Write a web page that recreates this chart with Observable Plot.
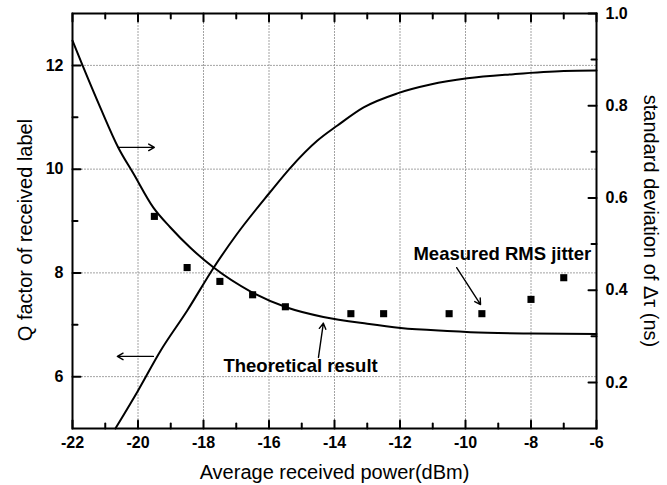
<!DOCTYPE html>
<html>
<head>
<meta charset="utf-8">
<script src="https://cdn.jsdelivr.net/npm/d3@7"></script>
<script src="https://cdn.jsdelivr.net/npm/@observablehq/plot@0.6"></script>
<style>
  html, body { margin: 0; padding: 0; background: #fff; }
  #chart svg { display: block; }
</style>
</head>
<body>
<div id="chart"></div>
<script>
// ---- Data ----
// Theoretical Q factor curve (left axis)
const qCurvePower = [-20.69, -20.0, -19.31, -18.49, -17.69, -17.0, -16.0, -15.34, -14.52, -13.91, -13.11, -12.08, -11.07, -9.94, -8.53, -7.0, -6.0];
const qCurveValue = [5.0, 5.73, 6.5, 7.28, 8.1, 8.73, 9.53, 10.03, 10.55, 10.84, 11.19, 11.46, 11.63, 11.75, 11.83, 11.89, 11.9];

// Theoretical jitter curve (right axis, ns)
const jitterCurvePower = [-22.0, -21.69, -21.15, -20.6, -20.14, -19.53, -19.01, -18.4, -17.69, -16.56, -15.43, -14.34, -13.0, -11.98, -10.37, -9.85, -8.0, -6.0];
const jitterCurveValue = [0.941, 0.887, 0.796, 0.709, 0.653, 0.579, 0.536, 0.492, 0.449, 0.397, 0.362, 0.342, 0.327, 0.318, 0.311, 0.309, 0.306, 0.305];

// Measured RMS jitter (right axis, ns)
const measuredPower = [-19.5, -18.5, -17.5, -16.5, -15.5, -13.5, -12.5, -10.5, -9.5, -8.0, -7.0];
const measuredJitter = [0.56, 0.449, 0.419, 0.39, 0.364, 0.349, 0.349, 0.349, 0.349, 0.38, 0.427];

// Axis ticks
const xTicks = [-22, -20, -18, -16, -14, -12, -10, -8, -6];
const xMinorTicks = [-21, -19, -17, -15, -13, -11, -9, -7];
const xGrid = [-20, -18, -16, -14, -12, -10, -8];
const leftTicks = [6, 8, 10, 12];
const leftMinorTicks = [7, 9, 11];
const rightTicks = [0.2, 0.4, 0.6, 0.8, 1.0];
const rightMinorTicks = [0.3, 0.5, 0.7, 0.9];

const xTitle = "Average received power(dBm)";
const leftTitle = "Q factor of received label";
const rightTitle = "standard deviation of \u0394\u03c4 (ns)";
const labelTheory = "Theoretical result";
const labelMeasured = "Measured RMS jitter";

// ---- Scales ----
const xDomain = [-22, -6];
const qDomain = [5, 13];
const jDomain = [0.1, 1.0];
const toQ = v => qDomain[0] + (v - jDomain[0]) * (qDomain[1] - qDomain[0]) / (jDomain[1] - jDomain[0]);
const fromQ = q => jDomain[0] + (q - qDomain[0]) * (jDomain[1] - jDomain[0]) / (qDomain[1] - qDomain[0]);

const qCurve = qCurvePower.map((x, i) => ({x, y: qCurveValue[i]}));
const jitterCurve = jitterCurvePower.map((x, i) => ({x, y: toQ(jitterCurveValue[i])}));
const measured = measuredPower.map((x, i) => ({x, y: toQ(measuredJitter[i])}));

const W = 667, H = 485, ML = 72, MR = 71, MT = 13, MB = 57;
const FW = W - ML - MR, FH = H - MT - MB;
const MAJ = 8, MIN = 5;
// pixel lengths expressed in data units, for inward ticks
const pxX = (xDomain[1] - xDomain[0]) / FW;
const pxQ = (qDomain[1] - qDomain[0]) / FH;

// two-point segments, one per tick / grid line (drawn with line marks, grouped by id)
let segId = 0;
const vSeg = (vals, y1, y2) => vals.flatMap(v => { const id = segId++; return [{x: v, y: y1, id}, {x: v, y: y2, id}]; });
const hSeg = (vals, x1, x2) => vals.flatMap(v => { const id = segId++; return [{x: x1, y: v, id}, {x: x2, y: v, id}]; });

const gridSegs = [
  ...vSeg(xGrid, qDomain[0], qDomain[1]),
  ...hSeg(leftTicks, xDomain[0], xDomain[1])
];
const tickSegs = [
  ...vSeg(xTicks, qDomain[0], qDomain[0] + MAJ * pxQ),
  ...vSeg(xMinorTicks, qDomain[0], qDomain[0] + MIN * pxQ),
  ...vSeg(xTicks, qDomain[1], qDomain[1] - MAJ * pxQ),
  ...vSeg(xMinorTicks, qDomain[1], qDomain[1] - MIN * pxQ),
  ...hSeg(leftTicks, xDomain[0], xDomain[0] + MAJ * pxX),
  ...hSeg(leftMinorTicks, xDomain[0], xDomain[0] + MIN * pxX),
  ...hSeg(rightTicks.map(toQ), xDomain[1], xDomain[1] - MAJ * pxX),
  ...hSeg(rightMinorTicks.map(toQ), xDomain[1], xDomain[1] - MIN * pxX)
];

const font = "Liberation Sans, Arial, Helvetica, sans-serif";
const arrowOpts = {x1: "x1", y1: "y1", x2: "x2", y2: "y2", stroke: "black", strokeWidth: 1.4, headLength: 7};

const chart = Plot.plot({
  width: W,
  height: H,
  marginLeft: ML,
  marginRight: MR,
  marginTop: MT,
  marginBottom: MB,
  style: {fontFamily: font, fontSize: "16px", fontWeight: "bold", color: "black", background: "white"},
  x: {domain: xDomain},
  y: {domain: qDomain},
  marks: [
    // dotted grid
    Plot.line(gridSegs, {x: "x", y: "y", z: "id", stroke: "#999", strokeWidth: 1, strokeDasharray: "1,2"}),
    // curves
    Plot.line(qCurve, {x: "x", y: "y", curve: "monotone-x", stroke: "black", strokeWidth: 2}),
    Plot.line(jitterCurve, {x: "x", y: "y", curve: "monotone-x", stroke: "black", strokeWidth: 2}),
    Plot.dot(measured, {x: "x", y: "y", symbol: "square", r: 4, fill: "black"}),
    // annotations
    Plot.arrow([{x1: -20.6, y1: 10.42, x2: -19.5, y2: 10.42}], arrowOpts),
    Plot.arrow([{x1: -19.53, y1: 6.39, x2: -20.63, y2: 6.39}], arrowOpts),
    Plot.arrow([{x1: -14.49, y1: 6.37, x2: -14.34, y2: 7.03}], arrowOpts),
    Plot.arrow([{x1: -10.27, y1: 8.1, x2: -9.54, y2: 7.39}], arrowOpts),
    Plot.text([labelTheory], {x: -17.39, y: 6.2, text: d => d, textAnchor: "start", fontSize: 18.5, fontWeight: "bold"}),
    Plot.text([labelMeasured], {x: -11.59, y: 8.36, text: d => d, textAnchor: "start", fontSize: 18.5, fontWeight: "bold"}),
    // inward tick marks on all four sides
    Plot.line(tickSegs, {x: "x", y: "y", z: "id", stroke: "black", strokeWidth: 2}),
    // axis labels
    Plot.axisX(xTicks, {tickSize: 0, tickPadding: 8, label: null, fontSize: 16, fontWeight: "bold", tickFormat: d => String(d)}),
    Plot.axisY(leftTicks, {anchor: "left", tickSize: 0, tickPadding: 9, label: null, fontSize: 16, fontWeight: "bold", tickFormat: d => String(d)}),
    Plot.axisY(rightTicks.map(toQ), {anchor: "right", tickSize: 0, tickPadding: 9, label: null, fontSize: 16, fontWeight: "bold", tickFormat: q => fromQ(q).toFixed(1)}),
    // axis titles
    Plot.text([xTitle], {frameAnchor: "bottom", dy: 50, text: d => d, textAnchor: "middle", fontSize: 20, fontWeight: "normal"}),
    Plot.text([leftTitle], {frameAnchor: "left", dx: -47, dy: 9, rotate: -90, textAnchor: "middle", text: d => d, fontSize: 20, fontWeight: "normal"}),
    Plot.text([rightTitle], {frameAnchor: "right", dx: 54, dy: 0, rotate: 90, textAnchor: "middle", text: d => d, fontSize: 20, fontWeight: "normal"}),
    Plot.frame({stroke: "black", strokeWidth: 2})
  ]
});
document.getElementById("chart").appendChild(chart);
</script>
</body>
</html>
